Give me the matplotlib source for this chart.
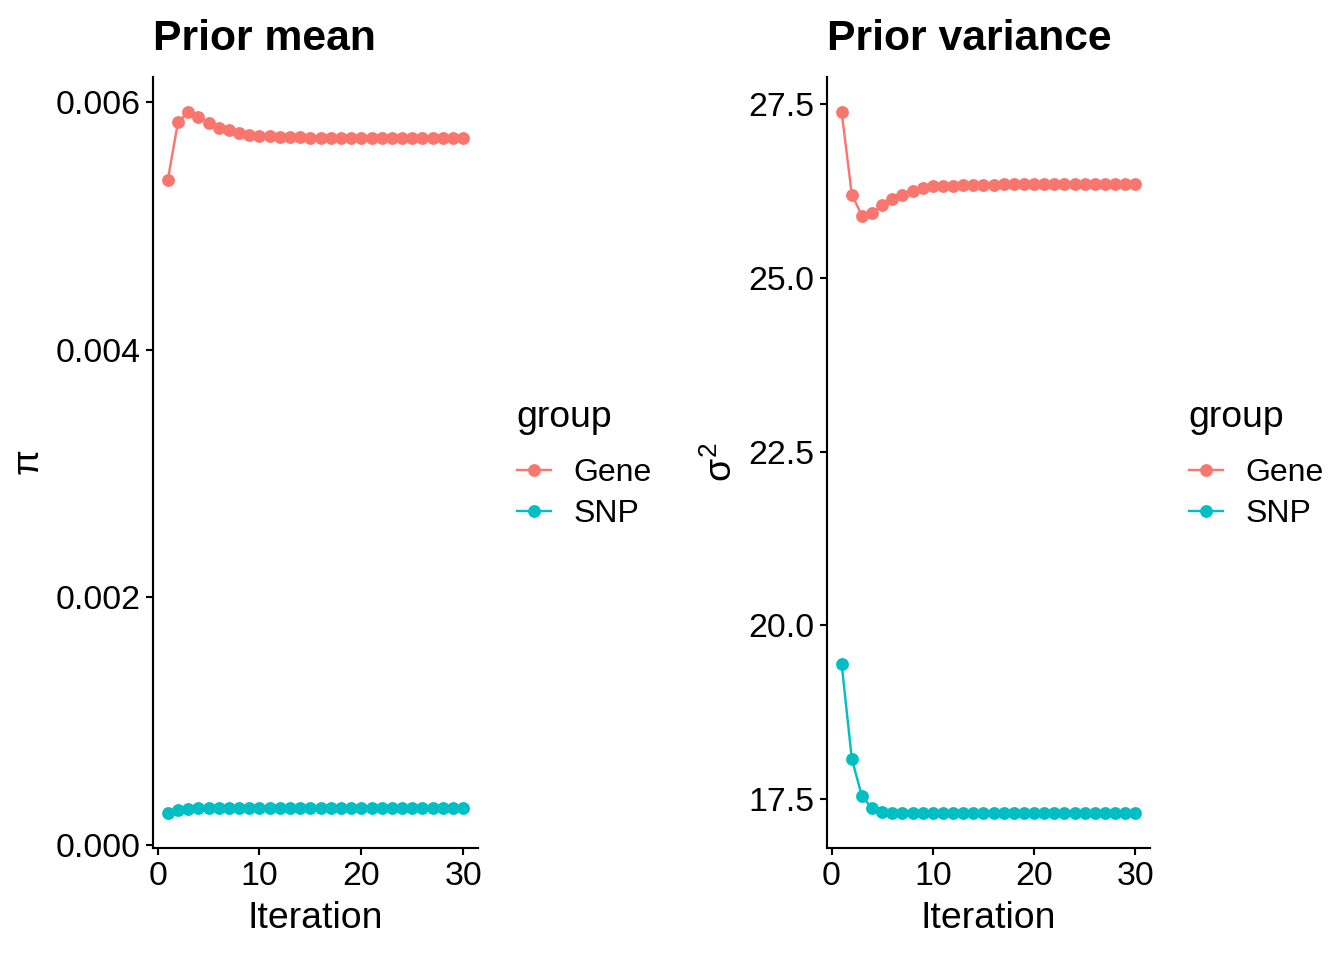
import matplotlib.pyplot as plt

plt.rcParams['font.family'] = ['Liberation Sans', 'DejaVu Sans']
plt.rcParams['mathtext.fontset'] = 'custom'
plt.rcParams['mathtext.rm'] = 'Liberation Sans'
plt.rcParams['mathtext.it'] = 'Liberation Sans'

iteration = list(range(1, 31))

# prior mean (pi)
gene_pi = [0.005371, 0.005841, 0.005922, 0.005881, 0.005836, 0.005796, 0.005774,
           0.005752, 0.005740, 0.005731, 0.005726, 0.005723, 0.005720, 0.005718,
           0.005715, 0.005715, 0.005715, 0.005715, 0.005715, 0.005715, 0.005713,
           0.005713, 0.005713, 0.005713, 0.005712, 0.005712, 0.005712, 0.005712,
           0.005712, 0.005712]
snp_pi = [0.000258, 0.000284, 0.000292, 0.000295, 0.000297, 0.000298, 0.000298,
          0.000298, 0.000298, 0.000298, 0.000298, 0.000298, 0.000298, 0.000298,
          0.000298, 0.000298, 0.000298, 0.000298, 0.000298, 0.000298, 0.000298,
          0.000298, 0.000298, 0.000298, 0.000298, 0.000298, 0.000298, 0.000298,
          0.000298, 0.000298]

# prior variance (sigma^2)
gene_var = [27.39, 26.20, 25.90, 25.94, 26.05, 26.14, 26.20, 26.26, 26.30, 26.32,
            26.32, 26.33, 26.34, 26.34, 26.34, 26.34, 26.35, 26.35, 26.35, 26.35,
            26.35, 26.35, 26.35, 26.35, 26.35, 26.35, 26.35, 26.35, 26.35, 26.35]
snp_var = [19.44, 18.08, 17.54, 17.37, 17.32, 17.30, 17.30, 17.30, 17.30, 17.30,
           17.30, 17.30, 17.30, 17.30, 17.30, 17.30, 17.30, 17.30, 17.30, 17.30,
           17.30, 17.30, 17.30, 17.30, 17.30, 17.30, 17.30, 17.30, 17.30, 17.30]

groups = ['Gene', 'SNP']
colors = ['#F8766D', '#00BFC4']

fig = plt.figure(figsize=(7, 5), dpi=192)

W, H = 1344, 960
ax1 = fig.add_axes([153/W, 1-848/H, 325/W, 771/H])
ax2 = fig.add_axes([827/W, 1-848/H, 323/W, 771/H])


def panel(ax, series, title, ylabel, yticks, yfmt):
	for vals, name, c in zip(series, groups, colors):
		ax.plot(iteration, vals, color=c, lw=0.9, marker='o', ms=3.8,
		        mec=c, mfc=c, label=name)
	ax.margins(x=0.05, y=0.05)
	for s in ['top', 'right']:
		ax.spines[s].set_visible(False)
	for s in ['left', 'bottom']:
		ax.spines[s].set_linewidth(0.8)
	ax.tick_params(axis='both', length=2.8, width=0.8, labelsize=12.7, pad=2, colors='black')
	ax.set_xticks([0, 10, 20, 30])
	ax.set_yticks(yticks)
	ax.set_yticklabels([yfmt.format(t) for t in yticks])
	ax.set_xlabel('Iteration', fontsize=14, labelpad=3.5)
	ax.set_ylabel(ylabel, fontsize=14, labelpad=3)
	ax.set_title(title, loc='left', fontsize=16, fontweight='bold', pad=10)
	leg = ax.legend(title='group', loc='center left', bbox_to_anchor=(1.07, 0.497),
	                frameon=False, fontsize=12, title_fontsize=14,
	                handlelength=1.06, handletextpad=0.72, labelspacing=0.35,
	                borderpad=0, alignment='left')
	leg._legend_box.sep = 8.5
	return leg


panel(ax1, [gene_pi, snp_pi], 'Prior mean', r'$\pi$',
      [0.0, 0.002, 0.004, 0.006], '{:.3f}')
panel(ax2, [gene_var, snp_var], 'Prior variance', r'$\sigma^2$',
      [17.5, 20.0, 22.5, 25.0, 27.5], '{:.1f}')

plt.savefig('out.png', dpi=192)
